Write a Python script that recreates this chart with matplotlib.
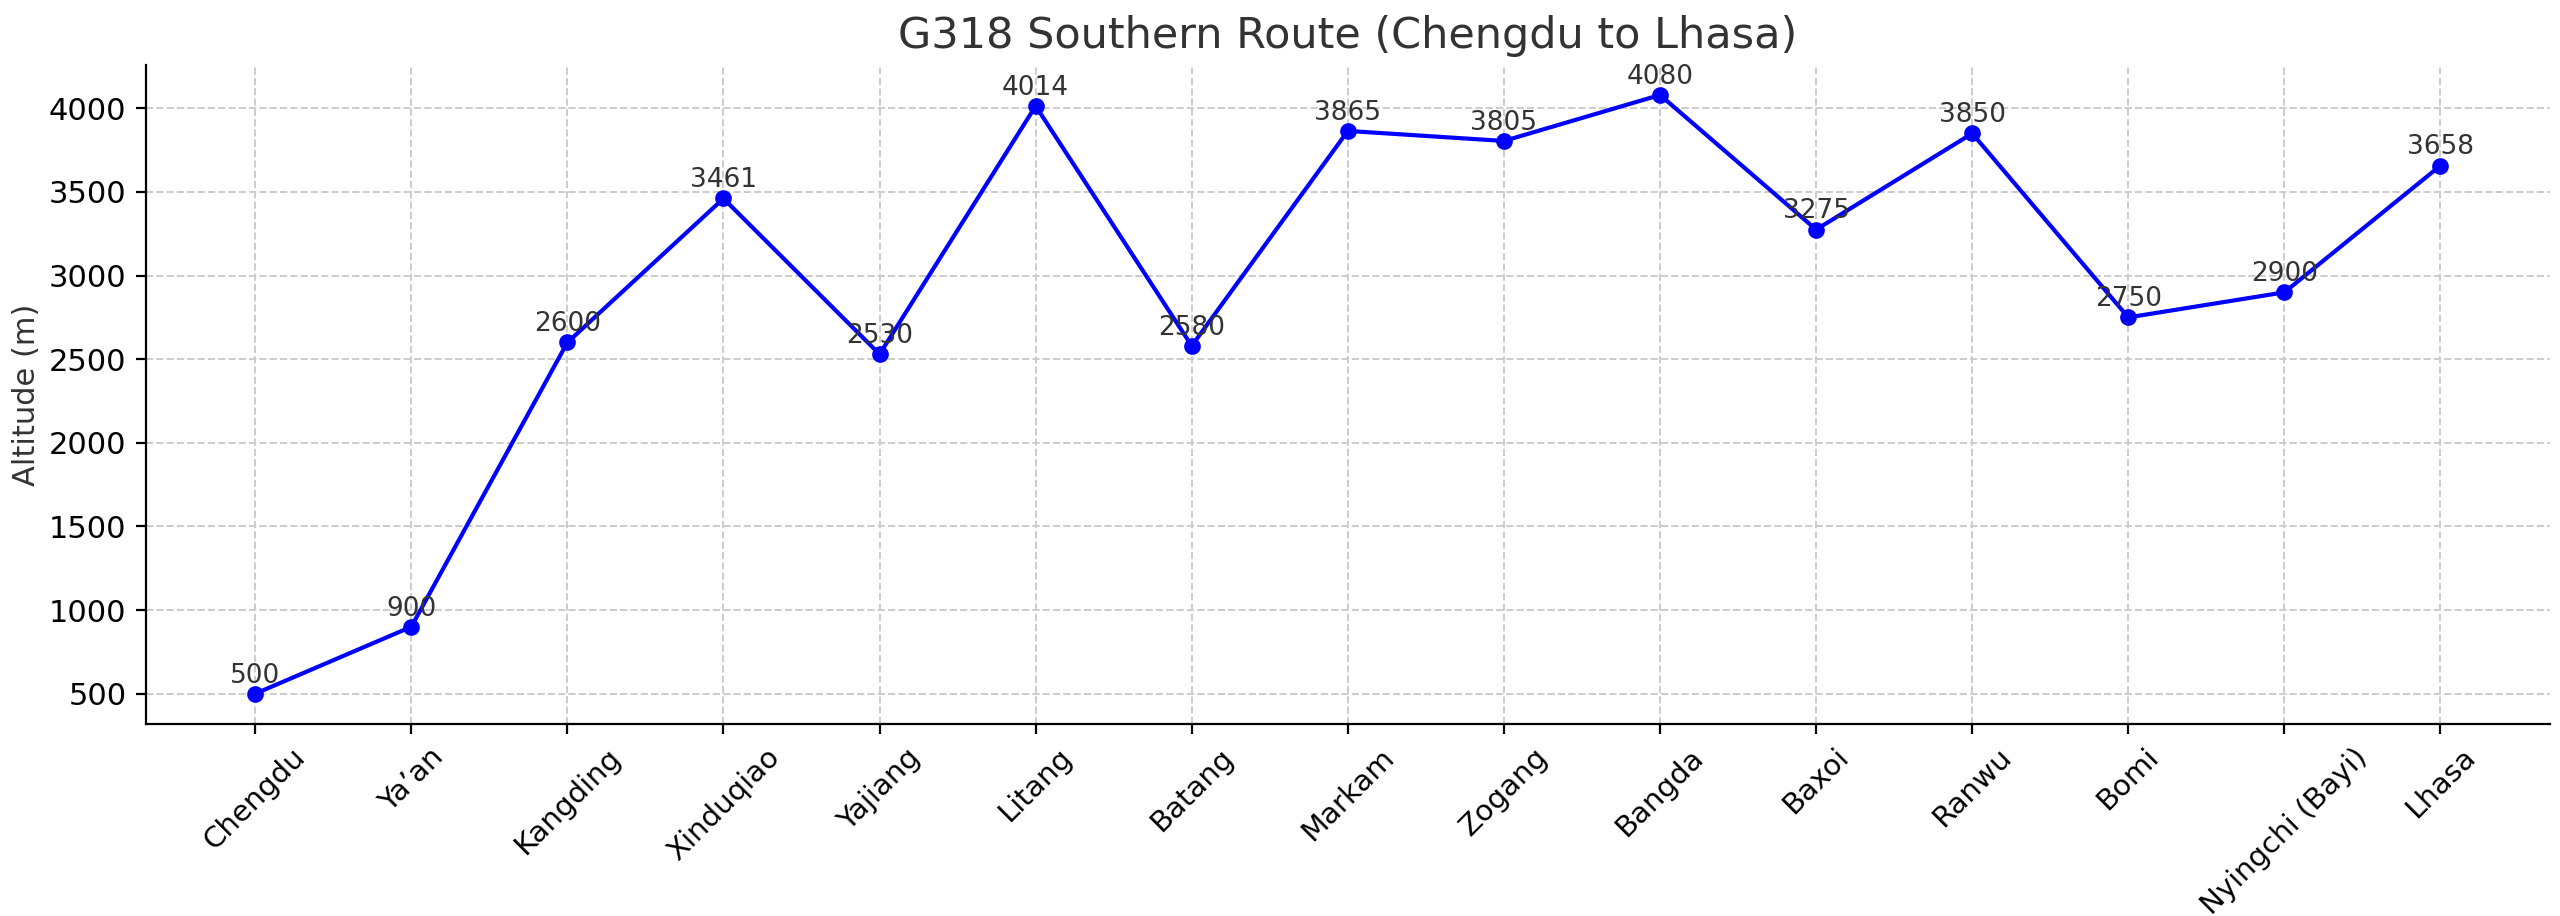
import matplotlib
matplotlib.use("Agg")
import matplotlib.pyplot as plt

places = ["Chengdu", "Ya’an", "Kangding", "Xinduqiao", "Yajiang", "Litang", "Batang",
          "Markam", "Zogang", "Bangda", "Baxoi", "Ranwu", "Bomi", "Nyingchi (Bayi)", "Lhasa"]
altitudes = [500, 900, 2600, 3461, 2530, 4014, 2580, 3865, 3805, 4080, 3275, 3850, 2750, 2900, 3658]

fig, ax = plt.subplots(figsize=(12.8, 4.58), dpi=200)
ax.plot(places, altitudes, marker="o", color="blue", markersize=5, linewidth=1.5)
for p, a in zip(places, altitudes):
    ax.annotate(str(a), (p, a), textcoords="offset points", xytext=(0, 4),
                ha="center", fontsize=9.5, color="#333333")
ax.set_title("G318 Southern Route (Chengdu to Lhasa)", fontsize=15.5, color="#333333")
ax.set_ylabel("Altitude (m)", fontsize=11, color="#333333", labelpad=3)
ax.tick_params(axis="x", labelrotation=45, labelsize=10.5)
ax.tick_params(axis="y", labelsize=11)
ax.grid(True, linestyle="--", color="#cccccc", linewidth=0.7)
ax.spines["top"].set_visible(False)
ax.spines["right"].set_visible(False)
fig.subplots_adjust(left=0.057, right=0.996, top=0.929, bottom=0.21)
fig.savefig("out.png", dpi=200)
